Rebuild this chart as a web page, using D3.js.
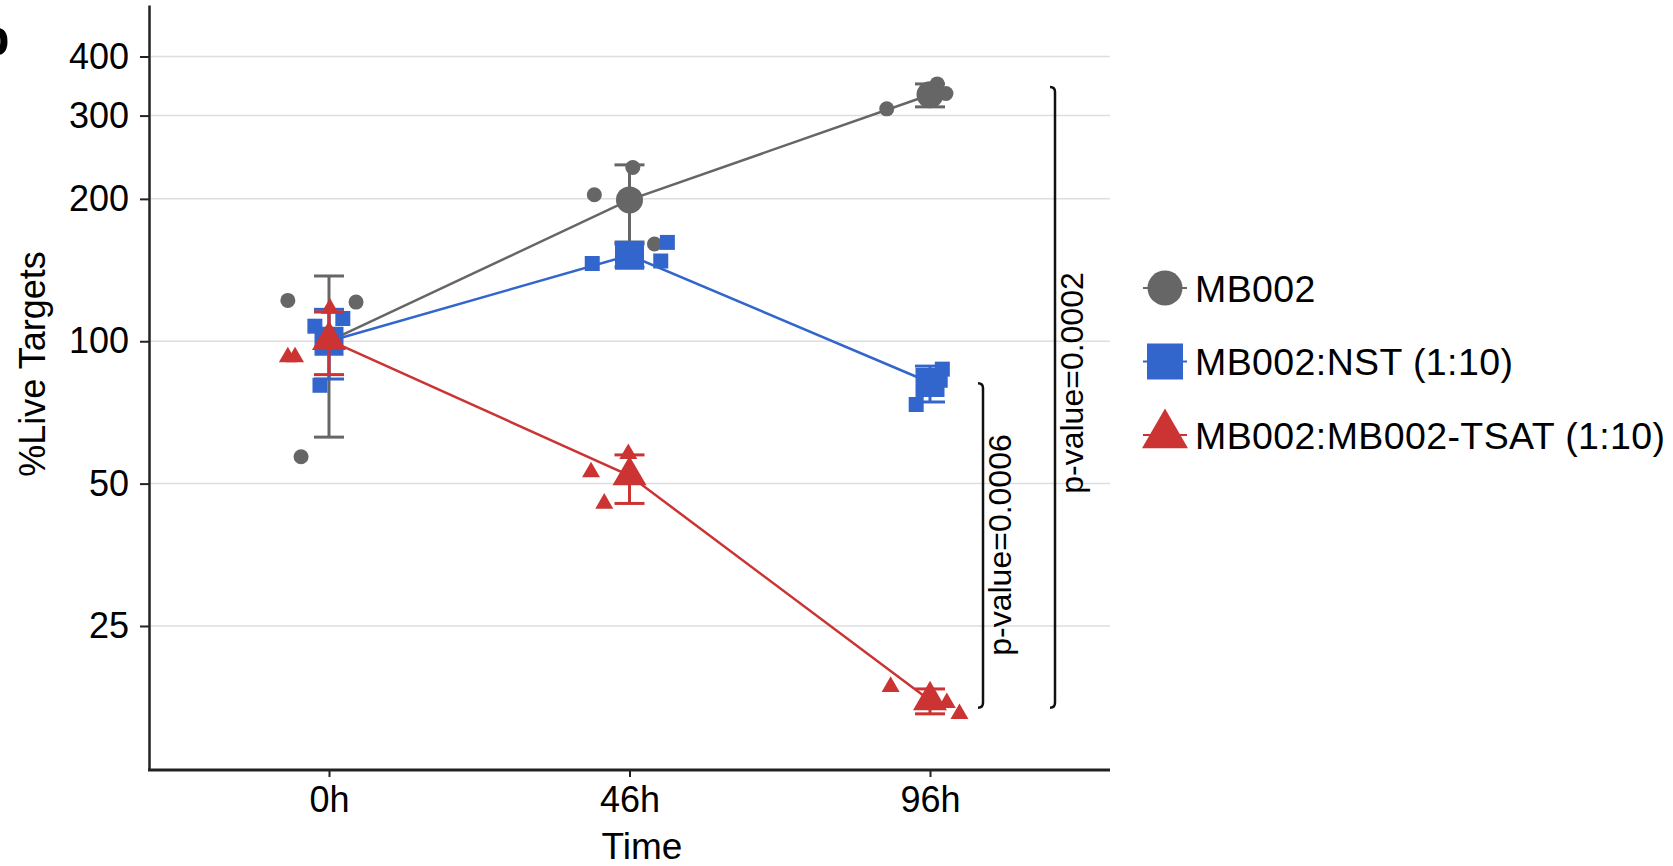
<!DOCTYPE html>
<html>
<head>
<meta charset="utf-8">
<script src="https://cdn.jsdelivr.net/npm/d3@7"></script>
<style>
  body { margin: 0; background: #fff; }
  text { font-family: "Liberation Sans", Arial, Helvetica, sans-serif; fill: #000; }
</style>
</head>
<body>
<svg id="chart"></svg>
<script>
const W = 1673, H = 866;

// categories / labels
const times = ["0h", "46h", "96h"];
const seriesNames = ["MB002", "MB002:NST (1:10)", "MB002:MB002-TSAT (1:10)"];
const yTicks = [25, 50, 100, 200, 300, 400];

// group means and mean +/- SD
const meanMB002 = [100, 199, 332];
const lowMB002 = [62.7, 162, 313];
const highMB002 = [137.4, 236, 350];

const meanNST = [100, 152, 81.8];
const lowNST = [83.2, 143.5, 74.4];
const highNST = [116.8, 160.5, 88.6];

const meanTSAT = [100.5, 52, 17.4];
const lowTSAT = [85, 45.4, 16.3];
const highTSAT = [115.3, 57.5, 18.4];

// replicates per time point, and their horizontal jitter (in category units)
const repMB002 = [[122, 121, 57], [204, 233, 160.5], [310, 350, 334]];
const jitMB002 = [[-0.137, 0.090, -0.093], [-0.117, 0.011, 0.083], [-0.144, 0.024, 0.053]];

const repNST = [[107.6, 111.7, 80.7], [146, 161.8, 147.8], [87.3, 73.5, 82.7]];
const jitNST = [[-0.047, 0.046, -0.030], [-0.124, 0.126, 0.104], [0.041, -0.046, 0.034]];

const repTSAT = [[117.3, 92.6, 92.6], [52.9, 45.4, 57.8], [18.6, 17.2, 16.3]];
const jitTSAT = [[0.003, -0.137, -0.113], [-0.128, -0.084, -0.004], [-0.131, 0.056, 0.098]];

// significance brackets (value range) and their labels
const pLabels = ["p-value=0.0006", "p-value=0.0002"];
const pTop = [81.5, 345];
const pBottom = [16.8, 16.8];

const colors = ["#666666", "#3366cc", "#cc3333"];
const shapes = [d3.symbolCircle, d3.symbolSquare, d3.symbolTriangle];

const series = [
  {name: seriesNames[0], mean: meanMB002, low: lowMB002, high: highMB002, rep: repMB002, jit: jitMB002},
  {name: seriesNames[1], mean: meanNST, low: lowNST, high: highNST, rep: repNST, jit: jitNST},
  {name: seriesNames[2], mean: meanTSAT, low: lowTSAT, high: highTSAT, rep: repTSAT, jit: jitTSAT}
];
const smallSize = [177, 225, 140];
const bigSize = [572, 841, 500];
const legendSize = [962, 1296, 916];

const svg = d3.select("#chart").attr("width", W).attr("height", H);

const plotL = 149, plotR = 1110, plotT = 5, plotB = 770;

const y = d3.scaleLog().domain([12.4, 514]).range([plotB, plotT]);
const x = d3.scalePoint().domain(times).range([329, 930]);
const xj = d3.scaleLinear().domain([0, times.length - 1]).range([329, 930]);

// panel letter, cut at the left edge
svg.append("text").attr("x", -21).attr("y", 55)
  .style("font-size", "50px").style("font-weight", "bold").text("b");

// grid
svg.append("g").selectAll("line").data(yTicks).join("line")
  .attr("x1", plotL).attr("x2", plotR)
  .attr("y1", d => y(d)).attr("y2", d => y(d))
  .attr("stroke", "#dedede").attr("stroke-width", 1.5);

// axes
const yAxis = svg.append("g").attr("transform", `translate(${plotL},0)`)
  .call(d3.axisLeft(y).tickValues(yTicks).tickFormat(d3.format("d"))
    .tickSize(9).tickSizeOuter(0).tickPadding(11));
const xAxis = svg.append("g").attr("transform", `translate(0,${plotB})`)
  .call(d3.axisBottom(x).tickSize(7).tickSizeOuter(0).tickPadding(9));
xAxis.select(".domain").remove();
svg.append("line").attr("x1", plotL - 1).attr("x2", plotR)
  .attr("y1", plotB).attr("y2", plotB)
  .attr("stroke", "#222").attr("stroke-width", 3);

[yAxis, xAxis].forEach(a => {
  a.selectAll("text").style("font-size", "36px").attr("fill", "#000")
    .style("font-family", "'Liberation Sans', Arial, sans-serif");
  a.selectAll(".tick line").attr("stroke", "#222").attr("stroke-width", 2);
  a.select(".domain").attr("stroke", "#222").attr("stroke-width", 2.5);
});

// axis titles
svg.append("text").attr("transform", "translate(45,364) rotate(-90)")
  .attr("text-anchor", "middle").style("font-size", "36px").text("%Live Targets");
svg.append("text").attr("x", 642).attr("y", 859)
  .attr("text-anchor", "middle").style("font-size", "37px").text("Time");

// series
series.forEach((s, k) => {
  const g = svg.append("g");
  const col = colors[k];
  g.append("path")
    .datum(s.mean)
    .attr("d", d3.line().x((d, i) => x(times[i])).y(d => y(d)))
    .attr("fill", "none").attr("stroke", col).attr("stroke-width", 2.5);

  const eb = g.append("g").selectAll("g").data(times).join("g")
    .attr("stroke", col).attr("stroke-width", 3);
  eb.append("line").attr("x1", d => x(d)).attr("x2", d => x(d))
    .attr("y1", (d, i) => y(s.low[i])).attr("y2", (d, i) => y(s.high[i]));
  eb.append("line").attr("x1", d => x(d) - 15).attr("x2", d => x(d) + 15)
    .attr("y1", (d, i) => y(s.low[i])).attr("y2", (d, i) => y(s.low[i]));
  eb.append("line").attr("x1", d => x(d) - 15).attr("x2", d => x(d) + 15)
    .attr("y1", (d, i) => y(s.high[i])).attr("y2", (d, i) => y(s.high[i]));

  const pts = [];
  s.rep.forEach((vals, i) => vals.forEach((v, j) => pts.push({i, v, jt: s.jit[i][j]})));
  g.append("g").selectAll("path").data(pts).join("path")
    .attr("d", d3.symbol().type(shapes[k]).size(smallSize[k]))
    .attr("transform", d => `translate(${xj(d.i + d.jt)},${y(d.v)})`)
    .attr("fill", col);

  g.append("g").selectAll("path").data(s.mean).join("path")
    .attr("d", d3.symbol().type(shapes[k]).size(bigSize[k]))
    .attr("transform", (d, i) => `translate(${x(times[i])},${y(d)})`)
    .attr("fill", col);
});

// brackets
const bx = [983, 1055];
const tx = [1011, 1083];
const ty = [545, 383];
pLabels.forEach((lab, k) => {
  const t = y(pTop[k]), b = y(pBottom[k]), xx = bx[k];
  svg.append("path")
    .attr("d", `M${xx - 5},${t} Q${xx},${t} ${xx},${t + 5} L${xx},${b - 5} Q${xx},${b} ${xx - 5},${b}`)
    .attr("fill", "none").attr("stroke", "#111").attr("stroke-width", 2.5);
  svg.append("text").attr("transform", `translate(${tx[k]},${ty[k]}) rotate(-90)`)
    .attr("text-anchor", "middle").style("font-size", "32px").text(lab);
});

// legend
const legY = d3.scalePoint().domain(seriesNames).range([288, 435]);
const leg = svg.append("g").selectAll("g").data(seriesNames).join("g")
  .attr("transform", d => `translate(1165,${legY(d)})`);
leg.append("line").attr("x1", -22).attr("x2", 22)
  .attr("stroke", (d, k) => colors[k]).attr("stroke-width", 2);
leg.append("path")
  .attr("d", (d, k) => d3.symbol().type(shapes[k]).size(legendSize[k])())
  .attr("fill", (d, k) => colors[k]);
leg.append("text").attr("x", 30).attr("dy", "0.36em")
  .style("font-size", "37.5px").style("letter-spacing", "0.4px").text(d => d);
</script>
</body>
</html>
